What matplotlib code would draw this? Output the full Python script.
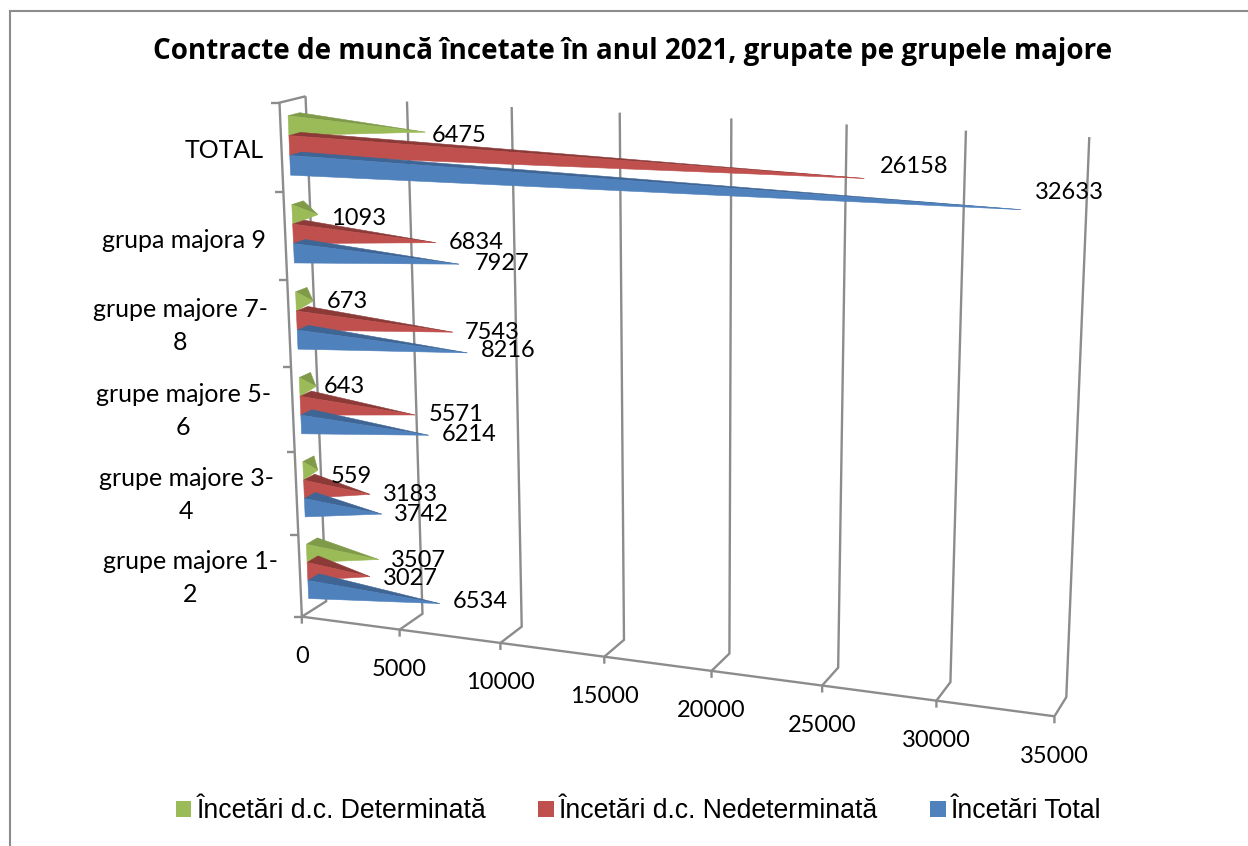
import numpy as np
import matplotlib
matplotlib.use('Agg')
import matplotlib.pyplot as plt
from matplotlib.patches import Patch, Polygon

CATEGORIES = ['grupe majore 1-\n2', 'grupe majore 3-\n4', 'grupe majore 5-\n6',
              'grupe majore 7-\n8', 'grupa majora 9', 'TOTAL']
DETERMINATA = [3507, 559, 643, 673, 1093, 6475]
NEDETERMINATA = [3027, 3183, 5571, 7543, 6834, 26158]
TOTAL = [6534, 3742, 6214, 8216, 7927, 32633]
VALUE_TICKS = [0, 5000, 10000, 15000, 20000, 25000, 30000, 35000]
TITLE = 'Contracte de muncă încetate în anul 2021, grupate pe grupele majore'
SERIES_NAMES = ['Încetări d.c. Determinată', 'Încetări d.c. Nedeterminată', 'Încetări Total']

LIGHT = ['#9BBB59', '#C0504D', '#4F81BD']
DARK = ['#7F9A48', '#8C3A38', '#3F6595']
GRID = '#8C8C8C'
N_CAT = len(CATEGORIES)

# calibration of the 3d box: (value, category position, depth) -> pixel
calib = [
    (0, 0, 0, 304, 617), (5000, 0, 0, 401, 629), (10000, 0, 0, 502, 643),
    (30000, 0, 0, 937, 700), (35000, 0, 0, 1054, 716),
    (0, 0, 1, 327, 600), (5000, 0, 1, 423, 614), (10000, 0, 1, 521, 627),
    (30000, 0, 1, 950, 683), (35000, 0, 1, 1066, 698),
    (0, 6, 1, 306, 96), (5000, 6, 1, 406, 102), (10000, 6, 1, 512, 107),
    (25000, 6, 1, 847, 124), (30000, 6, 1, 966, 130), (35000, 6, 1, 1089, 137),
    (0, 6, 0, 281, 103), (0, 5, 0, 283, 193), (0, 1, 0, 292, 535),
]
rows = []
for v, c, d, px, py in calib:
    p = [v / 35000, c / 6, d, 1]
    rows.append(p + [0, 0, 0, 0] + [-px * a for a in p])
    rows.append([0, 0, 0, 0] + p + [-py * a for a in p])
P = np.linalg.svd(np.array(rows, dtype=float))[2][-1].reshape(3, 4)


def project(v, c, d):
    u = P @ np.array([v / 35000, c / 6, d, 1])
    return u[0] / u[2], u[1] / u[2]


# data label offset from the cone tip, pixels (det, nedet, total) per category
LABEL_OFFSETS = [
    [(40, 1), (40, 2), (40, -2)],
    [(33, 6), (40, 0), (40, 0)],
    [(28, 0), (41, 0), (41, -1)],
    [(34, 0), (39, 0), (41, -2)],
    [(41, 4), (40, 0), (43, -1)],
    [(34, 3), (50, -12), (49, -17)],
]
CATEGORY_LABEL_POS = [(190, 578), (186, 495), (183, 411), (180, 326), (184, 240), (224, 151)]

fig = plt.figure(figsize=(12.48, 8.46), dpi=100)
ax = fig.add_axes([0, 0, 1, 1])
ax.set_xlim(0, 1248)
ax.set_ylim(846, 0)
ax.axis('off')


def line(*pts, lw=1.7, color=GRID):
    ax.plot([p[0] for p in pts], [p[1] for p in pts], color=color, lw=lw,
            solid_capstyle='butt', solid_joinstyle='miter')


# chart frame
line((10, 846), (10, 11.5), (1248, 11.5), lw=1.5, color='#8C8C8C')

# walls and gridlines
for v in VALUE_TICKS:
    front = project(v, 0, 0)
    back = project(v, 0, 1)
    top = project(v, 6, 1)
    line((front[0], front[1] + 7), front, back, top)
    ax.text(front[0], front[1] + 40, f'{v}', ha='center', va='center', fontsize=17, family='Lato')
line(project(0, 0, 0), project(35000, 0, 0))
line(project(0, 0, 0), project(0, 6, 0), project(0, 6, 1))
for i in range(N_CAT + 1):
    x, y = project(0, i, 0)
    line((x - 8, y), (x, y))

# cones, top series of each group first
for i in range(N_CAT):
    for s, values in enumerate([DETERMINATA, NEDETERMINATA, TOTAL]):
        c = i + 0.5 + (1 - s) * 2 / 9
        v = values[i]
        tip = project(v, c, 0.45)
        low = project(0, c - 1 / 9, 0.3)
        high = project(0, c + 1 / 9, 0.3)
        back = project(0, c + 1 / 9, 0.75)
        ax.add_patch(Polygon([high, back, tip], closed=True, fc=DARK[s], ec=DARK[s], lw=0.4, zorder=3 + s))
        ax.add_patch(Polygon([low, high, tip], closed=True, fc=LIGHT[s], ec=LIGHT[s], lw=0.4, zorder=3 + s))
        dx, dy = LABEL_OFFSETS[i][s]
        ax.text(tip[0] + dx, tip[1] + dy, f'{v}', ha='center', va='center', fontsize=17,
                family='Lato', zorder=6)

for name, pos in zip(CATEGORIES, CATEGORY_LABEL_POS):
    ax.text(pos[0], pos[1], name, ha='center', va='center', fontsize=18, family='Lato',
            linespacing=1.5)

ax.text(633, 51, TITLE, ha='center', va='center', fontsize=20, fontweight='bold', family='Open Sans')

handles = [Patch(fc=c, ec='none') for c in LIGHT]
ax.legend(handles, SERIES_NAMES, ncol=3, loc='center', bbox_to_anchor=(0.5116, 0.041), frameon=False,
          prop={'family': 'Liberation Sans', 'size': 19.2}, handlelength=0.58, handleheight=0.58,
          handletextpad=0.2, columnspacing=1.95, borderpad=0)

fig.savefig('out.png', dpi=100)
